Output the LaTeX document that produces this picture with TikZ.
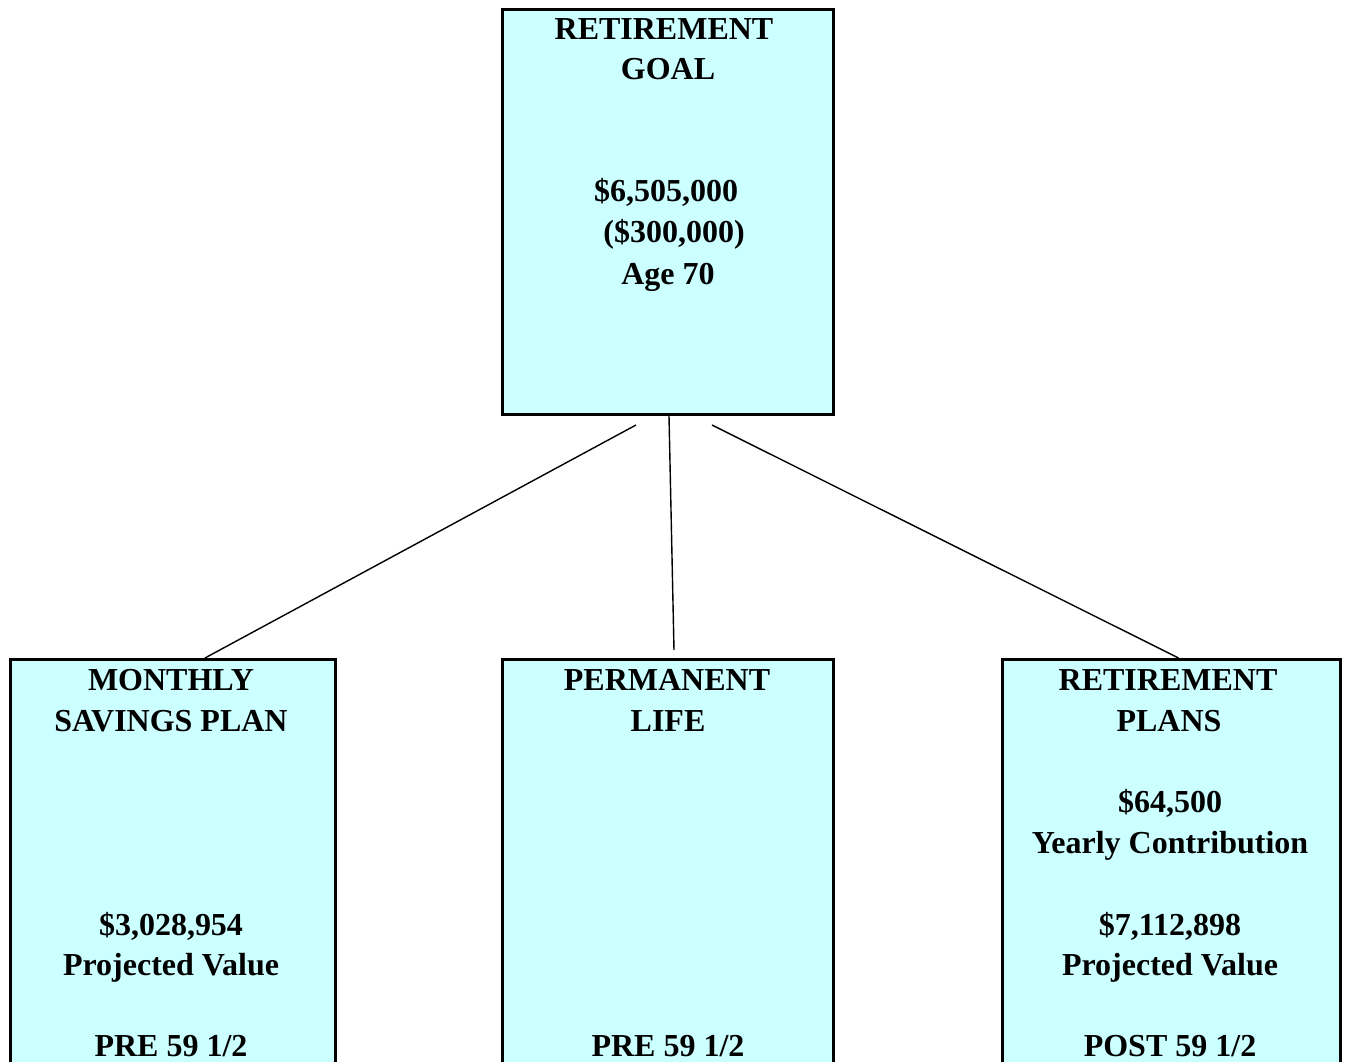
\documentclass[tikz,border=0pt]{standalone}
\usepackage{fontspec}
\setmainfont{Liberation Serif}
\definecolor{boxfill}{HTML}{CCFFFF}
\begin{document}
\begin{tikzpicture}[x=1pt,y=-1pt,
  box/.style={draw=black,line width=3pt,fill=boxfill,rectangle,inner sep=0pt,anchor=north west},
  lbl/.style={font=\fontsize{32}{40}\selectfont\bfseries,inner sep=0pt,anchor=base},
  conn/.style={draw=black,line width=1.4pt}]
\useasboundingbox (0,0) rectangle (1345,1062);
\clip (0,0) rectangle (1345,1062);
\node[box,minimum width=331pt,minimum height=405pt] (goal) at (501,8) {};
\node[box,minimum width=325pt,minimum height=430pt] (msp) at (9,658) {};
\node[box,minimum width=331pt,minimum height=430pt] (perm) at (501,658) {};
\node[box,minimum width=338pt,minimum height=430pt] (rp) at (1001,658) {};
% top box text
\node[lbl] (g1) at (664,40) {RETIREMENT};
\node[lbl] (g2) at (668,80) {GOAL};
\node[lbl] (g3) at (666,202) {\$6,505,000};
\node[lbl] (g4) at (674,243) {(\$300,000)};
\node[lbl] (g5) at (668,284) {Age 70};
% left
\node[lbl] (m1) at (171,690) {MONTHLY};
\node[lbl] (m2) at (171,731) {SAVINGS PLAN};
\node[lbl] (m3) at (171,935) {\$3,028,954};
\node[lbl] (m4) at (171,975) {Projected Value};
\node[lbl] (m5) at (171,1056) {PRE 59 1/2};
% middle
\node[lbl] (p1) at (667,690) {PERMANENT};
\node[lbl] (p2) at (668,731) {LIFE};
\node[lbl] (p3) at (668,1056) {PRE 59 1/2};
% right
\node[lbl] (r1) at (1168,690) {RETIREMENT};
\node[lbl] (r2) at (1169,731) {PLANS};
\node[lbl] (r3) at (1170,812) {\$64,500};
\node[lbl] (r4) at (1170,853) {Yearly Contribution};
\node[lbl] (r5) at (1170,935) {\$7,112,898};
\node[lbl] (r6) at (1170,975) {Projected Value};
\node[lbl] (r7) at (1170,1056) {POST 59 1/2};
% connectors
\coordinate (cL) at ([xshift=-32pt,yshift=-9pt]goal.south);
\coordinate (cM) at ([xshift=1pt]goal.south);
\coordinate (cR) at ([xshift=44pt,yshift=-9pt]goal.south);
\draw[conn] (cL) -- ([xshift=32pt]msp.north);
\draw[conn] (cM) -- ([xshift=6pt,yshift=8pt]perm.north);
\draw[conn] (cR) -- ([xshift=7pt]rp.north);
\end{tikzpicture}
\end{document}
